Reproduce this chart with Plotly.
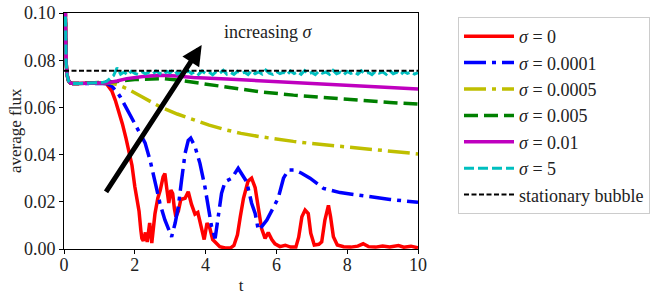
import plotly.graph_objects as go

# ---------------- data ----------------
t_start = [0.0, 0.03, 0.06, 0.09, 0.13, 0.18, 0.25, 0.4, 0.6, 0.8, 1.0]
flux_start = [0.14, 0.095, 0.079, 0.0735, 0.0712, 0.0704, 0.0701, 0.0701, 0.0702, 0.0703, 0.0704]

# sigma = 0
t_s0 = [1.2, 1.35, 1.45, 1.55, 1.65, 1.75, 1.85, 1.92, 2.0, 2.05, 2.12, 2.17, 2.2, 2.24, 2.3,
        2.35, 2.42, 2.48, 2.57, 2.65, 2.72, 2.8, 2.85, 2.9, 2.96, 3.02, 3.07, 3.12, 3.16, 3.23,
        3.3, 3.42, 3.51, 3.6, 3.7, 3.78, 3.88, 3.96, 4.04, 4.12, 4.2, 4.3, 4.4, 4.55, 4.7, 4.8,
        4.9, 4.98, 5.07, 5.2, 5.3, 5.4, 5.49, 5.58, 5.68, 5.77, 5.87, 5.96, 6.1, 6.25, 6.4, 6.55,
        6.63, 6.72, 6.81, 6.9, 6.97, 7.07, 7.2, 7.28, 7.37, 7.47, 7.53, 7.61, 7.72, 7.9, 8.1,
        8.3, 8.45, 8.6, 8.8, 9.0, 9.2, 9.45, 9.6, 9.8, 10.0]
f_s0 = [0.0700, 0.0670, 0.0630, 0.0585, 0.0530, 0.0470, 0.0400, 0.0355, 0.0265, 0.0215, 0.0160,
        0.0080, 0.0045, 0.0035, 0.0070, 0.0030, 0.0110, 0.0025, 0.0150, 0.0215, 0.0250, 0.0306,
        0.0320, 0.0260, 0.0195, 0.0250, 0.0235, 0.0170, 0.0137, 0.0160, 0.0210, 0.0215, 0.0243,
        0.0190, 0.0148, 0.0155, 0.0095, 0.0040, 0.0110, 0.0088, 0.0040, 0.0025, 0.0010, 0.0004,
        0.0004, 0.0015, 0.0060, 0.0137, 0.0215, 0.0288, 0.0300, 0.0260, 0.0165, 0.0088, 0.0045,
        0.0070, 0.0040, 0.0022, 0.0010, 0.0016, 0.0008, 0.0008, 0.0050, 0.0137, 0.0165, 0.0150,
        0.0067, 0.0017, 0.0020, 0.0030, 0.0123, 0.0185, 0.0137, 0.0052, 0.0017, 0.0010, 0.0008,
        0.0012, 0.0022, 0.0010, 0.0008, 0.0013, 0.0009, 0.0015, 0.0008, 0.0012, 0.0005]

# sigma = 0.0001
t_s1 = [1.2, 1.35, 1.5, 1.6, 1.7, 1.82, 1.95, 2.05, 2.15, 2.29, 2.43, 2.57, 2.71, 2.85, 2.95,
        3.04, 3.14, 3.23, 3.32, 3.42, 3.51, 3.58, 3.7, 3.84, 3.98, 4.08, 4.17, 4.27, 4.36, 4.45,
        4.55, 4.74, 4.92, 5.02, 5.16, 5.3, 5.4, 5.49, 5.58, 5.73, 5.87, 6.05, 6.2, 6.34, 6.5,
        6.7, 6.95, 7.33, 7.8, 8.27, 8.74, 9.21, 10.0]
f_s1 = [0.0702, 0.0690, 0.0665, 0.0642, 0.0615, 0.0580, 0.0540, 0.0515, 0.0490, 0.0450, 0.0377,
        0.0290, 0.0194, 0.0123, 0.0080, 0.0052, 0.0110, 0.0180, 0.0290, 0.0405, 0.0460, 0.0470,
        0.0434, 0.0363, 0.0264, 0.0165, 0.0094, 0.0045, 0.0137, 0.0236, 0.0285, 0.0300, 0.0342,
        0.0320, 0.0285, 0.0194, 0.0151, 0.0080, 0.0094, 0.0123, 0.0165, 0.0215, 0.0300, 0.0335,
        0.0335, 0.0322, 0.0300, 0.0257, 0.0239, 0.0229, 0.0219, 0.0210, 0.0198]

# sigma = 0.0005
t_s2 = [1.3, 1.5, 1.77, 2.2, 2.71, 3.2, 3.65, 4.1, 4.6, 5.0, 5.54, 6.0, 6.48, 7.0, 7.42, 8.0,
        8.5, 9.0, 9.5, 10.0]
f_s2 = [0.0705, 0.0697, 0.0680, 0.0645, 0.0603, 0.0572, 0.0547, 0.0525, 0.0504, 0.0490, 0.0476,
        0.0465, 0.0456, 0.0447, 0.0441, 0.0432, 0.0424, 0.0417, 0.0410, 0.0403]

# sigma = 0.005
t_s3 = [1.5, 2.0, 2.5, 2.8, 3.2, 3.65, 4.2, 4.6, 5.54, 6.48, 7.42, 8.36, 9.2, 10.0]
f_s3 = [0.0710, 0.0718, 0.0722, 0.0722, 0.0716, 0.0706, 0.0696, 0.0688, 0.0666, 0.0652, 0.0640,
        0.0629, 0.0621, 0.0614]

# sigma = 0.01
t_s4 = [1.2, 1.5, 1.77, 2.24, 2.71, 3.18, 3.65, 4.6, 5.54, 6.48, 7.42, 8.36, 9.2, 10.0]
f_s4 = [0.0704, 0.0712, 0.0722, 0.0731, 0.0736, 0.0733, 0.0727, 0.0720, 0.0712, 0.0705, 0.0698,
        0.0690, 0.0684, 0.0678]

# sigma = 5
t_s5 = [round(1.1 + 0.1 * i, 2) for i in range(90)]
f_s5 = [0.0706, 0.0710, 0.0722, 0.0735, 0.0768, 0.0741, 0.0750, 0.0737, 0.0753, 0.0744,
        0.0739, 0.0751, 0.0742, 0.0748, 0.0740, 0.0754, 0.0745, 0.0738, 0.0752, 0.0747,
        0.0761, 0.0742, 0.0749, 0.0739, 0.0756, 0.0744, 0.0751, 0.0740, 0.0754, 0.0743,
        0.0750, 0.0738, 0.0752, 0.0745, 0.0757, 0.0741, 0.0748, 0.0740, 0.0753, 0.0744,
        0.0749, 0.0739, 0.0755, 0.0743, 0.0750, 0.0741, 0.0758, 0.0745, 0.0740, 0.0752,
        0.0743, 0.0749, 0.0738, 0.0754, 0.0744, 0.0751, 0.0740, 0.0756, 0.0742, 0.0748,
        0.0739, 0.0753, 0.0745, 0.0750, 0.0740, 0.0757, 0.0743, 0.0749, 0.0738, 0.0752,
        0.0744, 0.0750, 0.0741, 0.0755, 0.0742, 0.0748, 0.0739, 0.0753, 0.0745, 0.0751,
        0.0740, 0.0756, 0.0743, 0.0749, 0.0738, 0.0752, 0.0744, 0.0750, 0.0741, 0.0747]

t_stat = [0.0, 10.0]
f_stat = [0.0755, 0.0755]

names = ["<i>σ</i> = 0", "<i>σ</i> = 0.0001", "<i>σ</i> = 0.0005", "<i>σ</i> = 0.005",
         "<i>σ</i> = 0.01", "<i>σ</i> = 5", "stationary bubble"]
x_ticks = [0, 2, 4, 6, 8, 10]
y_ticks = [0.00, 0.02, 0.04, 0.06, 0.08, 0.10]
y_tick_labels = ["0.00", "0.02", "0.04", "0.06", "0.08", "0.10"]

# ---------------- figure ----------------
FONT = "'Liberation Serif', 'DejaVu Serif', serif"
TXT = "#222222"
styles = [
    dict(color="#ff0000", width=3.5, dash="solid"),
    dict(color="#0000ff", width=3.5, dash="22px,6px,4px,6px"),
    dict(color="#bfbf00", width=3.5, dash="22px,6px,4px,6px"),
    dict(color="#008000", width=3.5, dash="14px,6px"),
    dict(color="#bf00bf", width=3.5, dash="solid"),
    dict(color="#00bfbf", width=3.0, dash="10px,4px"),
    dict(color="#000000", width=2.0, dash="5px,2.5px"),
]
xs = [t_start + t_s0, t_start + t_s1, t_start + t_s2, t_start + t_s3, t_start + t_s4,
      t_start + t_s5, t_stat]
ys = [flux_start + f_s0, flux_start + f_s1, flux_start + f_s2, flux_start + f_s3,
      flux_start + f_s4, flux_start + f_s5, f_stat]

fig = go.Figure()
for i in range(7):
    fig.add_trace(go.Scatter(x=xs[i], y=ys[i], mode="lines", name=names[i],
                             line=styles[i], legendgroup=str(i)))

fig.add_annotation(x=3.89, y=0.0864, ax=1.16, ay=0.0236, xref="x", yref="y",
                   axref="x", ayref="y", text="", showarrow=True, arrowhead=2,
                   arrowsize=0.8, arrowwidth=5, arrowcolor="black", standoff=0)
fig.add_annotation(x=5.76, y=0.092, xref="x", yref="y", text="increasing <i>σ</i>",
                   showarrow=False, font=dict(family=FONT, size=18, color=TXT))
# y-axis title placed explicitly
fig.add_annotation(x=0, y=0.5, xref="paper", yref="paper", xanchor="center",
                   yanchor="middle", xshift=-49, textangle=-90,
                   text="average flux", showarrow=False,
                   font=dict(family=FONT, size=17, color=TXT))

axis_common = dict(showline=True, linecolor="black", linewidth=1, mirror=True,
                   ticks="outside", ticklen=4, tickcolor="black", showgrid=False,
                   zeroline=False, automargin=False, ticklabeloverflow="allow",
                   tickfont=dict(family=FONT, size=18, color=TXT))
fig.update_xaxes(range=[0, 10], tickvals=x_ticks, ticklabelstandoff=-5,
                 title=dict(text="t", standoff=5,
                            font=dict(family=FONT, size=17, color=TXT)), **axis_common)
fig.update_yaxes(range=[0, 0.10], tickvals=y_ticks, ticktext=y_tick_labels, **axis_common)

fig.update_layout(
    width=664, height=300,
    margin=dict(l=64, r=246, t=13, b=51, autoexpand=False),
    plot_bgcolor="white", paper_bgcolor="white",
    showlegend=True,
    legend=dict(x=1.113, y=0.983, xanchor="left", yanchor="top",
                bordercolor="#cccccc", borderwidth=1, bgcolor="white",
                font=dict(family=FONT, size=18, color=TXT),
                itemwidth=50, tracegroupgap=0, traceorder="grouped"),
)

# remove the page's default body margin so the figure sits at the window's corner
fig.write_html("out.html", config={"displayModeBar": False},
               post_script="document.body.style.margin='0px';")
